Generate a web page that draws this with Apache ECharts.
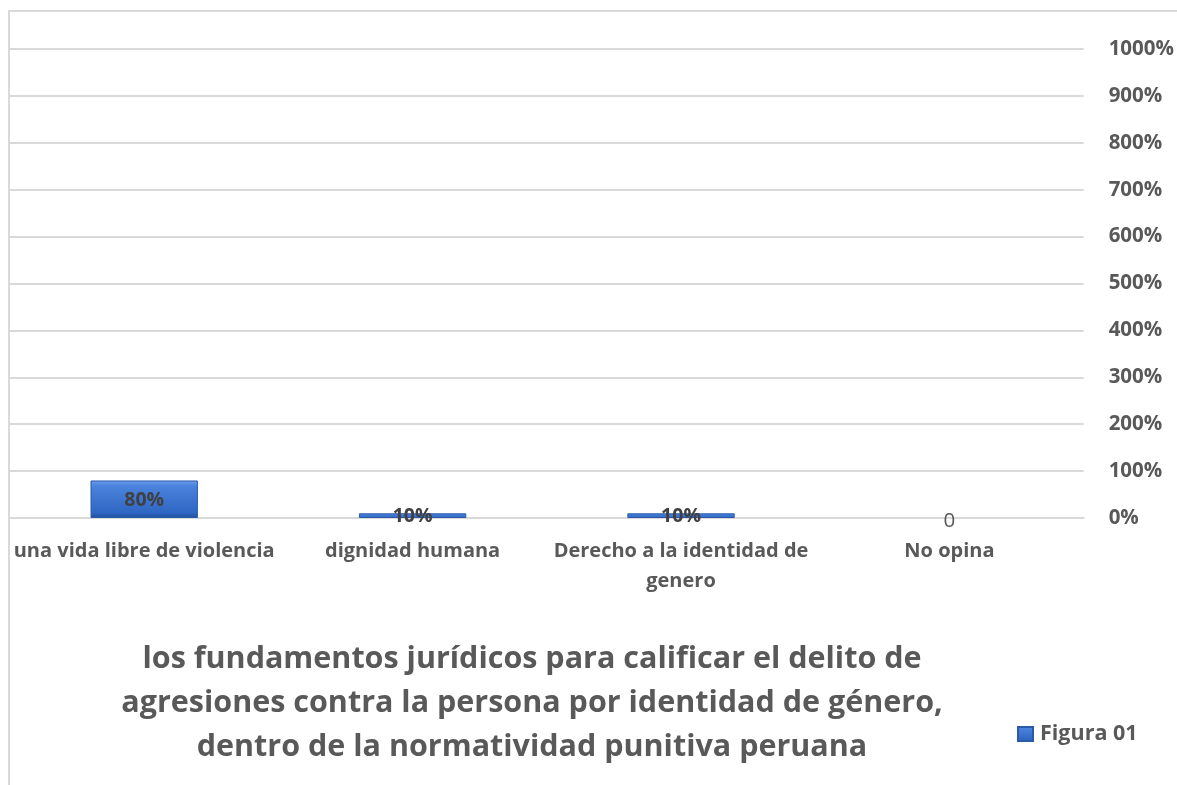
<!DOCTYPE html>
<html>
<head>
<meta charset="utf-8">
<style>
  html, body { margin: 0; padding: 0; background: #fff; }
  #chart { width: 1177px; height: 785px; }
</style>
<script src="https://cdn.jsdelivr.net/npm/echarts@6/dist/echarts.min.js"></script>
</head>
<body>
<div id="chart"></div>
<script>
// categorias y valores (fraccion: 0.8 = 80%)
const categories = ['una vida libre de violencia', 'dignidad humana', 'Derecho a la identidad de\ngenero', 'No opina'];
const values = [0.8, 0.1, 0.1, 0];
const yTicks = [0, 1, 2, 3, 4, 5, 6, 7, 8, 9, 10];
const seriesName = 'Figura 01';
const titleText = 'los fundamentos jurídicos para calificar el delito de\nagresiones contra la persona por identidad de género,\ndentro de la normatividad punitiva peruana';

const fontFamily = '"Open Sans", "Noto Sans", sans-serif';
const textColor = '#595959';
const gridColor = '#d9d9d9';

const barColor = new echarts.graphic.LinearGradient(0, 0, 0, 1, [
  { offset: 0, color: '#6d9eeb' },
  { offset: 0.15, color: '#4a82dc' },
  { offset: 0.85, color: '#2f67c4' },
  { offset: 1, color: '#1f4f9e' }
]);

const pct = v => Math.round(v * 100) + '%';

const chart = echarts.init(document.getElementById('chart'));
chart.setOption({
  animation: false,
  textStyle: { fontFamily },
  graphic: [{
    type: 'rect',
    shape: { x: 9, y: 11, width: 1200, height: 800 },
    style: { fill: 'none', stroke: gridColor, lineWidth: 2 },
    silent: true,
    z: -1
  }],
  title: {
    text: titleText,
    left: 527,
    top: 632,
    textAlign: 'center',
    textStyle: {
      fontFamily,
      fontSize: 30.5,
      fontWeight: 'bold',
      color: textColor,
      lineHeight: 44
    }
  },
  legend: {
    left: 1012,
    top: 718,
    itemWidth: 15,
    itemHeight: 14,
    itemGap: 4,
    icon: 'rect',
    textStyle: { fontFamily, fontSize: 21.5, fontWeight: 'bold', color: textColor, padding: [0, 0, 0, 2] },
    data: [seriesName]
  },
  grid: { left: 10, right: 92, top: 49, bottom: 267 },
  xAxis: {
    type: 'category',
    data: categories,
    axisLine: { lineStyle: { color: gridColor, width: 2 } },
    axisTick: { show: false },
    axisLabel: {
      interval: 0,
      margin: 18,
      fontFamily,
      fontSize: 20,
      fontWeight: 'bold',
      color: textColor,
      lineHeight: 30
    }
  },
  yAxis: {
    type: 'value',
    position: 'right',
    min: yTicks[0],
    max: yTicks[yTicks.length - 1],
    interval: 1,
    axisLine: { show: false },
    axisTick: { show: false },
    splitLine: { lineStyle: { color: gridColor, width: 2 } },
    axisLabel: {
      margin: 25,
      fontFamily,
      fontSize: 20.5,
      fontWeight: 'bold',
      color: textColor,
      formatter: v => pct(v)
    }
  },
  series: [{
    name: seriesName,
    type: 'bar',
    barWidth: '40%',
    itemStyle: { color: barColor, borderColor: '#2a5aa8', borderWidth: 1 },
    label: {
      show: true,
      position: 'inside',
      fontFamily,
      fontSize: 19.5,
      fontWeight: 'bold',
      color: '#404040',
      offset: [0, 1],
      formatter: p => p.value === 0 ? '0' : pct(p.value)
    },
    data: values.map(v => v === 0
      ? {
          value: v,
          itemStyle: { color: 'rgba(0,0,0,0)', borderWidth: 0 },
          label: { fontSize: 20.5, fontWeight: 'normal', color: textColor, offset: [0, 3] }
        }
      : v)
  }]
});
</script>
</body>
</html>
